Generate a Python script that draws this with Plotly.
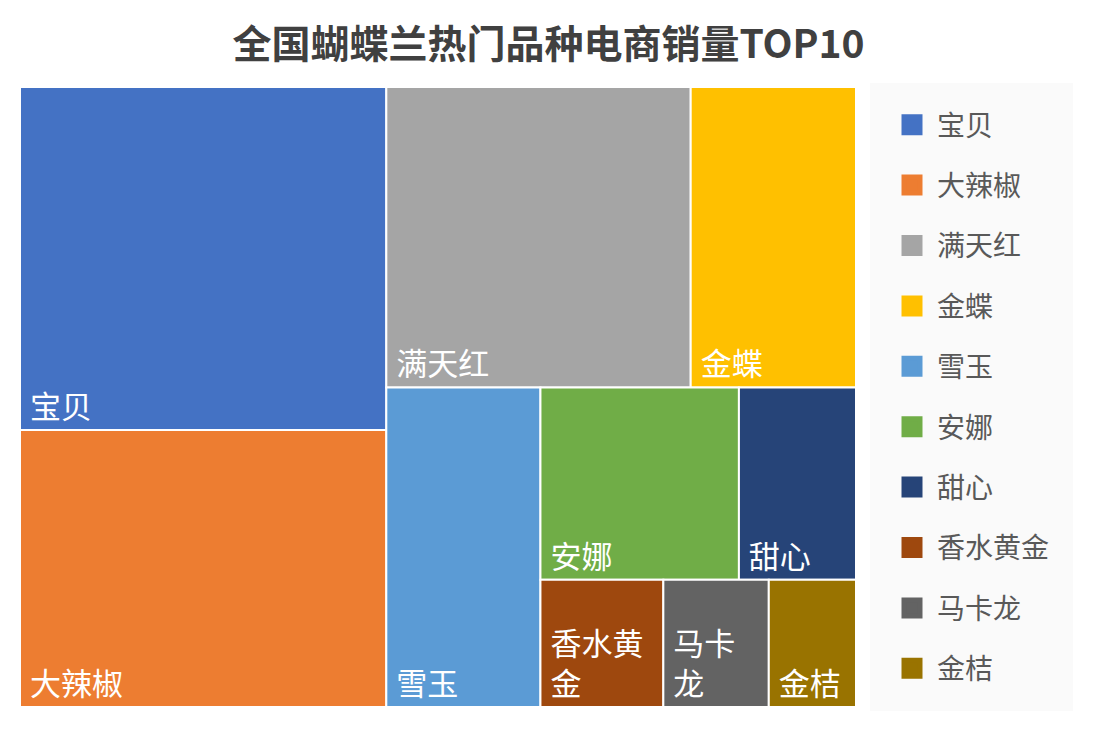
import plotly.graph_objects as go

# ---- data ----
categories = ["宝贝", "大辣椒", "满天红", "金蝶", "雪玉", "安娜", "甜心", "香水黄金", "马卡龙", "金桔"]
sales = [12450, 10050, 9060, 4920, 4880, 3780, 2230, 1550, 1330, 1100]
colors = ["#4472C4", "#ED7D31", "#A5A5A5", "#FFC000", "#5B9BD5",
          "#70AD47", "#264478", "#9E480E", "#636363", "#997300"]
# wrapped display text for narrow tiles
display_text = ["宝贝", "大辣椒", "满天红", "金蝶", "雪玉", "安娜", "甜心", "香水黄<br>金", "马卡<br>龙", "金桔"]

# invisible layout groups so the tiling follows the reference arrangement
# (node order matters: children are laid out in order of appearance)
node_order = ["root", "gA", "宝贝", "大辣椒", "gB", "gE", "满天红", "金蝶",
              "gF", "雪玉", "gG", "gH", "安娜", "甜心", "gI", "香水黄金", "马卡龙", "金桔"]
group_parent = {"root": "", "gA": "root", "gB": "root", "gE": "gB", "gF": "gB",
                "gG": "gF", "gH": "gG", "gI": "gG"}
leaf_parent = dict(zip(categories, ["gA", "gA", "gE", "gE", "gF", "gH", "gH", "gI", "gI", "gI"]))

ids, parents, labels, values, texts, mcolors, lwidths = [], [], [], [], [], [], []
for n in node_order:
    ids.append(n)
    if n in group_parent:
        parents.append(group_parent[n]); labels.append(""); values.append(0)
        texts.append(""); mcolors.append("rgba(0,0,0,0)"); lwidths.append(0)
    else:
        i = categories.index(n)
        parents.append(leaf_parent[n]); labels.append(n); values.append(sales[i])
        texts.append("\u00a0" + display_text[i].replace("<br>", "<br>\u00a0"))
        mcolors.append(colors[i]); lwidths.append(2)

FONT = "Noto Sans CJK SC, Microsoft YaHei, sans-serif"

fig = go.Figure()
fig.add_trace(go.Treemap(
    ids=ids, parents=parents, labels=labels, values=values,
    branchvalues="remainder", sort=False,
    text=texts, textinfo="text",
    textposition="bottom left",
    textfont=dict(family=FONT, size=31, color="white"),
    marker=dict(colors=mcolors, line=dict(color="white", width=lwidths),
                pad=dict(t=0, l=0, r=0, b=0)),
    tiling=dict(packing="slice-dice", pad=0),
    pathbar=dict(visible=False),
    domain=dict(x=[20 / 1097, 856 / 1097], y=[1 - 707 / 729, 1 - 87 / 729]),
    hoverinfo="label+value",
))

# legend entries
for name, c in zip(categories, colors):
    fig.add_trace(go.Scatter(
        x=[None], y=[None], mode="markers", name=name, legendgroup=name,
        marker=dict(symbol="square", size=20, color=c, line=dict(color=c, width=7)),
    ))

fig.update_layout(
    width=1097, height=729,
    margin=dict(l=0, r=0, t=0, b=0),
    paper_bgcolor="white", plot_bgcolor="white",
    title=dict(text="<b>全国蝴蝶兰热门品种电商销量TOP10</b>", x=0.5, xanchor="center",
               y=1 - 44 / 729, yanchor="middle",
               font=dict(family=FONT, size=39, color="#404040")),
    xaxis=dict(visible=False), yaxis=dict(visible=False),
    legend=dict(x=887 / 1097, xanchor="left", y=1 - 100 / 729, yanchor="top",
                bgcolor="rgba(0,0,0,0)", font=dict(family=FONT, size=28, color="#595959"),
                tracegroupgap=21, itemwidth=40),
    shapes=[dict(type="rect", xref="paper", yref="paper",
                 x0=870 / 1097, x1=1073 / 1097, y0=1 - 711 / 729, y1=1 - 83 / 729,
                 fillcolor="#FAFAFA", line=dict(width=0), layer="below")],
)

fig.write_html("out.html")
